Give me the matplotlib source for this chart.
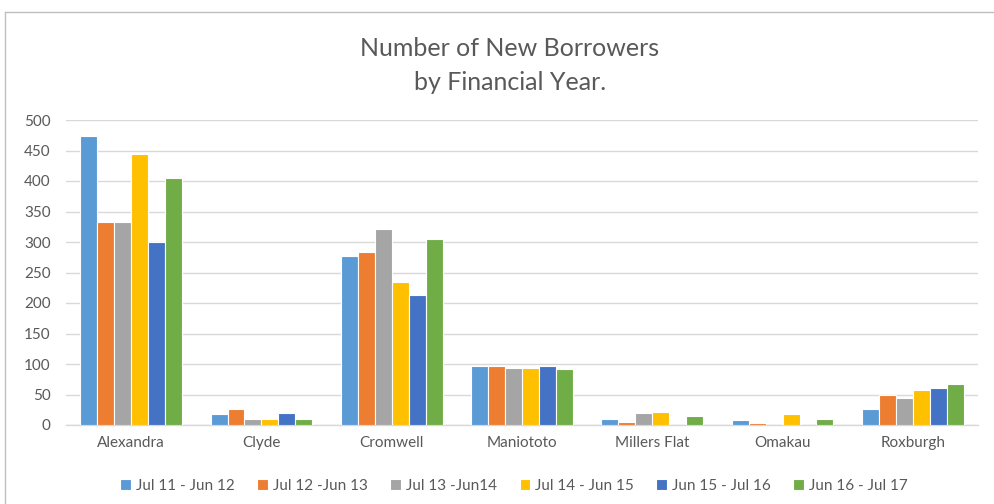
import matplotlib
matplotlib.use("Agg")
import matplotlib.pyplot as plt
from matplotlib.lines import Line2D
import numpy as np

# ---------- data ----------
towns = ["Alexandra", "Clyde", "Cromwell", "Maniototo", "Millers Flat", "Omakau", "Roxburgh"]
series_names = ["Jul 11 - Jun 12", "Jul 12 -Jun 13", "Jul 13 -Jun14",
                "Jul 14 - Jun 15", "Jun 15 - Jul 16", "Jun 16 - Jul 17"]
fy_11_12 = [474, 18, 277, 96, 10, 8, 27]
fy_12_13 = [333, 27, 284, 96, 5, 3, 49]
fy_13_14 = [333, 10, 322, 94, 20, 0, 44]
fy_14_15 = [445, 10, 234, 94, 22, 18, 58]
fy_15_16 = [300, 20, 213, 96, 0, 0, 61]
fy_16_17 = [405, 10, 305, 91, 15, 10, 68]
all_series = [fy_11_12, fy_12_13, fy_13_14, fy_14_15, fy_15_16, fy_16_17]

COLORS = ["#5B9BD5", "#ED7D31", "#A5A5A5", "#FFC000", "#4472C4", "#70AD47"]
INK = "#595959"
GRID = "#D9D9D9"

plt.rcParams["font.family"] = ["Lato", "DejaVu Sans"]

fig = plt.figure(figsize=(9.94, 5.04), dpi=100)
ax = fig.add_axes([66 / 994, 1 - 425 / 504, 912 / 994, 305 / 504])

x = np.arange(len(towns))
slot = 0.78 / len(all_series)
for i, (vals, name) in enumerate(zip(all_series, series_names)):
    offs = (i - (len(all_series) - 1) / 2) * slot
    ax.bar(x + offs, vals, width=slot, color=COLORS[i], edgecolor="white",
           linewidth=0.8, label=name, zorder=3)

ax.set_xlim(-0.5, len(towns) - 0.5)
ax.set_ylim(0, 500)
ax.set_yticks(range(0, 501, 50))
ax.set_xticks(x)
ax.set_xticklabels(towns)
ax.grid(axis="y", color=GRID, linewidth=1.0, zorder=0)
for s in ("top", "right", "left"):
    ax.spines[s].set_visible(False)
ax.spines["bottom"].set_color(GRID)
ax.spines["bottom"].set_linewidth(1.0)
ax.tick_params(axis="both", length=0, colors=INK, labelsize=11)
ax.tick_params(axis="x", pad=8)
ax.tick_params(axis="y", pad=11)

# ---------- title ----------
fig.text(0.513, 1 - 48 / 504, "Number of New Borrowers", ha="center", va="center",
         fontsize=18, color=INK)
fig.text(0.513, 1 - 82 / 504, "by Financial Year.", ha="center", va="center",
         fontsize=18, color=INK)

# ---------- legend ----------
leg = ax.legend(loc="center", bbox_to_anchor=(0.517, 1 - 486 / 504), bbox_transform=fig.transFigure,
                ncol=6, frameon=False, fontsize=11, handlelength=0.7, handleheight=0.7,
                handletextpad=0.3, columnspacing=1.5)
for t in leg.get_texts():
    t.set_color(INK)

# ---------- chart-area border ----------
fig.add_artist(Line2D([5 / 994, 5 / 994], [0, 1 - 12 / 504], transform=fig.transFigure,
                      color="#BFBFBF", linewidth=1.0))
fig.add_artist(Line2D([5 / 994, 1], [1 - 12 / 504, 1 - 12 / 504], transform=fig.transFigure,
                      color="#BFBFBF", linewidth=1.0))

fig.savefig("out.png", dpi=100, facecolor="white")
